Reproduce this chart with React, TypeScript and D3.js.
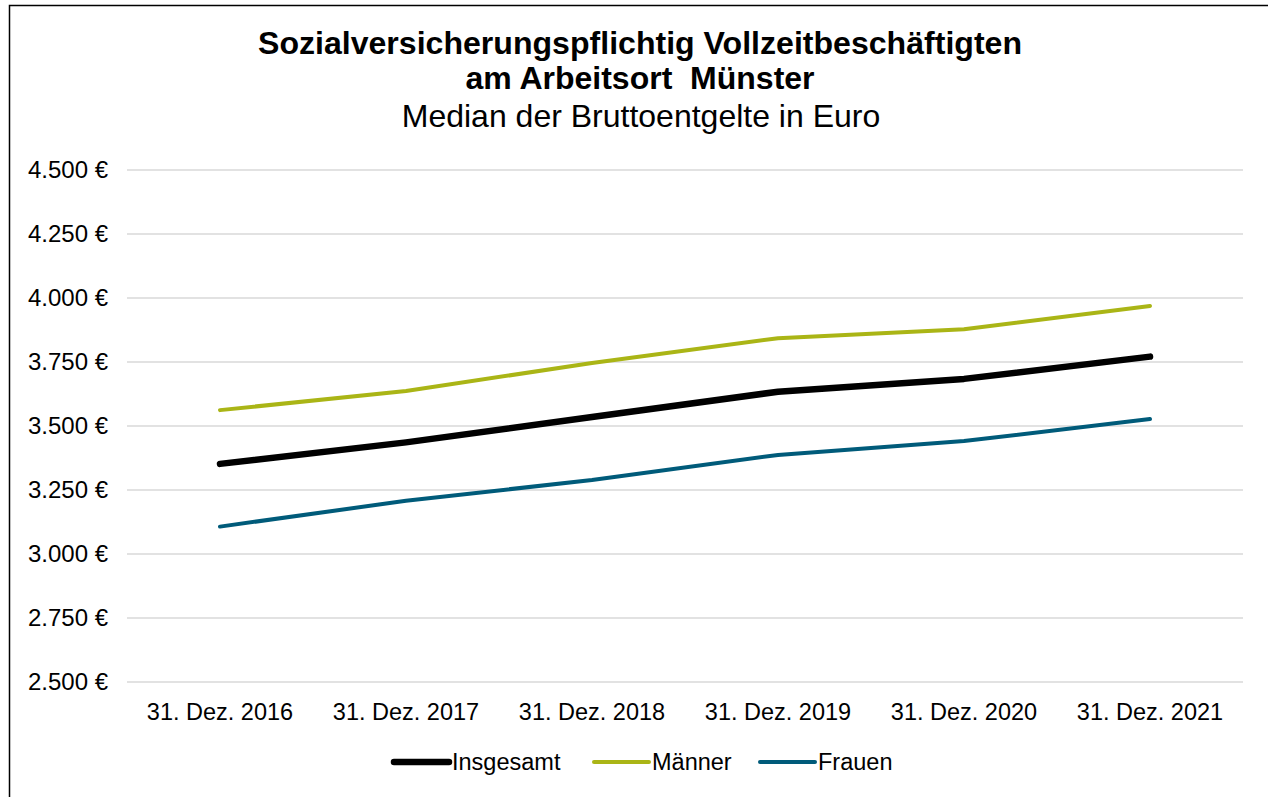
import React from "react";
import * as d3 from "d3";

const categories = ["31. Dez. 2016", "31. Dez. 2017", "31. Dez. 2018", "31. Dez. 2019", "31. Dez. 2020", "31. Dez. 2021"];
const insgesamt = [3352, 3436, 3535, 3634, 3684, 3771];
const maenner = [3562, 3637, 3746, 3843, 3878, 3969];
const frauen = [3107, 3208, 3289, 3387, 3441, 3527];
const yTicks = [2500, 2750, 3000, 3250, 3500, 3750, 4000, 4250, 4500];
const seriesNames = ["Insgesamt", "Männer", "Frauen"];
const seriesColors = ["#000000", "#aab516", "#005b7a"];
const seriesWidths = [6.5, 4, 4];

const W = 1268;
const H = 797;
const FONT = "'Liberation Sans', Arial, sans-serif";

export default function App() {
  const left = 127, right = 1243, top = 170, bottom = 682;
  const x = d3.scaleBand<string>().domain(categories).range([left, right]);
  const y = d3.scaleLinear().domain([2500, 4500]).range([bottom, top]);
  const line = d3
    .line<number>()
    .x((_, i) => (x(categories[i]) as number) + x.bandwidth() / 2)
    .y((d) => y(d));
  const allSeries = [insgesamt, maenner, frauen];
  const fmt = (v: number) => d3.format(",")(v).replace(/,/g, ".") + " €";
  const legendX = [394, 594, 760];

  return (
    <svg width={W} height={H} style={{ position: "absolute", left: 0, top: 0, background: "#fff" }} fontFamily={FONT}>
      <rect x={9.5} y={5.5} width={1270} height={800} fill="#fff" stroke="#000" strokeWidth={1.5} />
      <text x={640} y={54} textAnchor="middle" fontSize={32} fontWeight="bold" fill="#000" textLength={764} lengthAdjust="spacingAndGlyphs">
        Sozialversicherungspflichtig Vollzeitbeschäftigten
      </text>
      <text x={640} y={88.5} textAnchor="middle" fontSize={32} fontWeight="bold" fill="#000">
        am Arbeitsort{"\u00a0\u00a0"}Münster
      </text>
      <text x={641} y={127} textAnchor="middle" fontSize={32} fill="#000">
        Median der Bruttoentgelte in Euro
      </text>
      {yTicks.map((t) => (
        <g key={t}>
          <line x1={left} x2={right} y1={y(t)} y2={y(t)} stroke="#d9d9d9" strokeWidth={1.5} />
          <text x={108} y={y(t)} dy="0.35em" textAnchor="end" fontSize={24} fill="#000">
            {fmt(t)}
          </text>
        </g>
      ))}
      {categories.map((c) => (
        <text key={c} x={(x(c) as number) + x.bandwidth() / 2} y={712} dy="0.35em" textAnchor="middle" fontSize={23.5} fill="#000">
          {c}
        </text>
      ))}
      {[1, 2, 0].map((i) => (
        <path
          key={seriesNames[i]}
          d={line(allSeries[i]) || ""}
          fill="none"
          stroke={seriesColors[i]}
          strokeWidth={seriesWidths[i]}
          strokeLinecap="round"
          strokeLinejoin="round"
        />
      ))}
      {seriesNames.map((n, i) => (
        <g key={n}>
          <line
            x1={legendX[i]}
            x2={legendX[i] + 55}
            y1={762}
            y2={762}
            stroke={seriesColors[i]}
            strokeWidth={seriesWidths[i]}
            strokeLinecap="round"
          />
          <text x={legendX[i] + 58} y={762} dy="0.35em" fontSize={23.5} fill="#000">
            {n}
          </text>
        </g>
      ))}
    </svg>
  );
}
